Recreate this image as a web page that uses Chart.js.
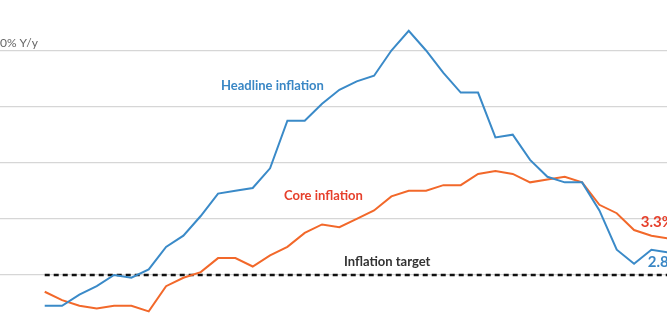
<!DOCTYPE html>
<html>
<head>
<meta charset="utf-8">
<script src="https://cdn.jsdelivr.net/npm/chart.js@4"></script>
<style>
  html, body { margin: 0; padding: 0; background: #fff; overflow: hidden; }
  #wrap { width: 667px; height: 326px; position: relative; }
</style>
</head>
<body>
<div id="wrap"><canvas id="chart" width="667" height="326"></canvas></div>
<script>
// Euro area inflation, Jan 2021 - Jan 2024, % y/y
const months = [
  'Jan 21', 'Feb 21', 'Mar 21', 'Apr 21', 'May 21', 'Jun 21', 'Jul 21', 'Aug 21', 'Sep 21', 'Oct 21', 'Nov 21', 'Dec 21',
  'Jan 22', 'Feb 22', 'Mar 22', 'Apr 22', 'May 22', 'Jun 22', 'Jul 22', 'Aug 22', 'Sep 22', 'Oct 22', 'Nov 22', 'Dec 22',
  'Jan 23', 'Feb 23', 'Mar 23', 'Apr 23', 'May 23', 'Jun 23', 'Jul 23', 'Aug 23', 'Sep 23', 'Oct 23', 'Nov 23', 'Dec 23',
  'Jan 24'
];
const headline = [
  0.9, 0.9, 1.3, 1.6, 2.0, 1.9, 2.2, 3.0, 3.4, 4.1, 4.9, 5.0,
  5.1, 5.8, 7.5, 7.5, 8.1, 8.6, 8.9, 9.1, 10.0, 10.7, 10.0, 9.2,
  8.5, 8.5, 6.9, 7.0, 6.1, 5.5, 5.3, 5.3, 4.3, 2.9, 2.4, 2.9,
  2.8
];
const core = [
  1.4, 1.1, 0.9, 0.8, 0.9, 0.9, 0.7, 1.6, 1.9, 2.1, 2.6, 2.6,
  2.3, 2.7, 3.0, 3.5, 3.8, 3.7, 4.0, 4.3, 4.8, 5.0, 5.0, 5.2,
  5.2, 5.6, 5.7, 5.6, 5.3, 5.4, 5.5, 5.3, 4.5, 4.2, 3.6, 3.4,
  3.3
];
const target = 2;
const yTicks = [2, 4, 6, 8, 10];

const toPoints = arr => arr.map((v, i) => ({ x: i, y: v }));

const labelsPlugin = {
  id: 'labels',
  afterDatasetsDraw(chart) {
    const ctx = chart.ctx;
    const xs = chart.scales.x;
    const ys = chart.scales.y;
    const last = months.length - 1;
    ctx.save();
    ctx.textBaseline = 'middle';
    ctx.textAlign = 'left';

    // axis unit, mostly cropped off on the left
    ctx.font = '12px Lato, "Open Sans", sans-serif';
    ctx.fillStyle = '#666';
    ctx.fillText('10% Y/y', -7, ys.getPixelForValue(10) - 7);

    ctx.font = 'bold 13px Lato, "Open Sans", sans-serif';
    ctx.fillStyle = '#3a87c5';
    ctx.fillText('Headline inflation', 221, 86);
    ctx.fillStyle = '#e6402c';
    ctx.fillText('Core inflation', 284, 196);
    ctx.fillStyle = '#333';
    ctx.fillText('Inflation target', 344, 262);

    ctx.font = 'bold 15px Lato, "Open Sans", sans-serif';
    ctx.fillStyle = '#e6402c';
    ctx.fillText(core[last].toFixed(1) + '%', xs.getPixelForValue(last) - 28, ys.getPixelForValue(core[last]) - 16);
    ctx.fillStyle = '#3a87c5';
    ctx.fillText(headline[last].toFixed(1) + '%', xs.getPixelForValue(last) - 21, ys.getPixelForValue(headline[last]) + 10);
    ctx.restore();
  }
};

const ctx = document.getElementById('chart').getContext('2d');
new Chart(ctx, {
  type: 'line',
  data: {
    datasets: [
      {
        label: 'Inflation target',
        data: [{ x: 0, y: target }, { x: months.length - 1, y: target }],
        borderColor: '#111',
        borderWidth: 2.5,
        borderDash: [5, 4],
        pointRadius: 0,
        order: 3
      },
      {
        label: 'Core inflation',
        data: toPoints(core),
        borderColor: '#f2682a',
        borderWidth: 2,
        pointRadius: 0,
        tension: 0,
        order: 2
      },
      {
        label: 'Headline inflation',
        data: toPoints(headline),
        borderColor: '#3a8ac8',
        borderWidth: 2,
        pointRadius: 0,
        tension: 0,
        order: 1
      }
    ]
  },
  options: {
    responsive: false,
    animation: false,
    layout: { padding: 0 },
    plugins: {
      legend: { display: false },
      tooltip: { enabled: false }
    },
    scales: {
      x: {
        type: 'linear',
        display: false,
        min: -2.58,
        max: 35.9
      },
      y: {
        min: 0.18,
        max: 11.8,
        afterBuildTicks: axis => { axis.ticks = yTicks.map(v => ({ value: v })); },
        ticks: { display: false },
        border: { display: false },
        grid: { color: '#d6d6d6', lineWidth: 1.2, drawTicks: false }
      }
    }
  },
  plugins: [labelsPlugin]
});
</script>
</body>
</html>
